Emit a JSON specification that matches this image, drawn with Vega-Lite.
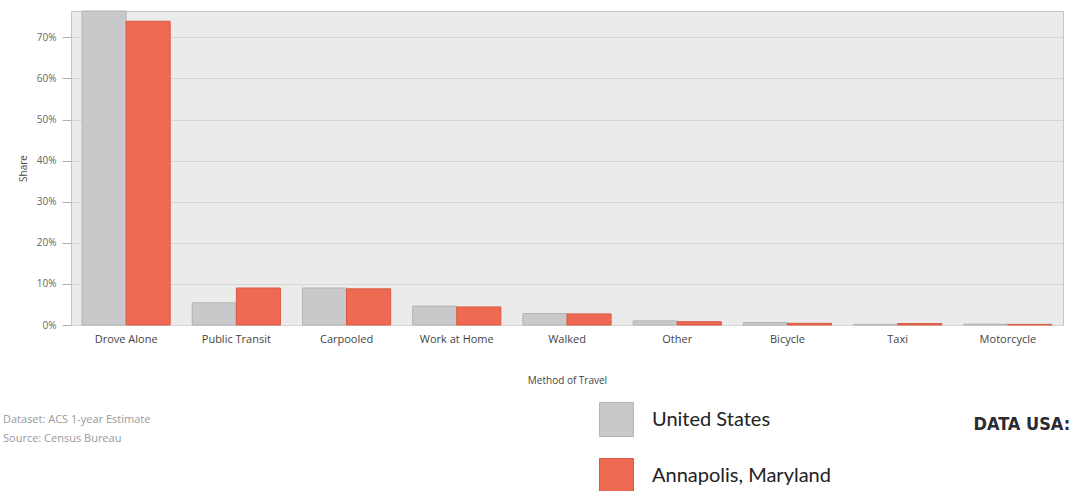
{
  "$schema": "https://vega.github.io/schema/vega-lite/v6.json",
  "autosize": {"type": "none"},
  "width": 992,
  "height": 314,
  "padding": {"left": 71, "top": 11, "right": 12, "bottom": 166},
  "background": "#ffffff",
  "config": {
    "view": {"fill": "#ebebeb", "stroke": "#c6c6c6", "strokeWidth": 1},
    "font": "Open Sans"
  },
  "title": {
    "text": ["Dataset: ACS 1-year Estimate", "Source: Census Bureau"],
    "orient": "bottom",
    "anchor": "start",
    "frame": "group",
    "fontSize": 11,
    "fontWeight": "normal",
    "color": "#9a9a9a",
    "font": "Open Sans",
    "lineHeight": 19,
    "dx": -68,
    "offset": -81
  },
  "layer": [
    {
      "data": {
        "values": [
          {"method": "Drove Alone", "series": "United States", "share": 76.4},
          {"method": "Drove Alone", "series": "Annapolis, Maryland", "share": 73.9},
          {"method": "Public Transit", "series": "United States", "share": 5.4},
          {"method": "Public Transit", "series": "Annapolis, Maryland", "share": 9.0},
          {"method": "Carpooled", "series": "United States", "share": 9.0},
          {"method": "Carpooled", "series": "Annapolis, Maryland", "share": 8.8},
          {"method": "Work at Home", "series": "United States", "share": 4.6},
          {"method": "Work at Home", "series": "Annapolis, Maryland", "share": 4.4},
          {"method": "Walked", "series": "United States", "share": 2.8},
          {"method": "Walked", "series": "Annapolis, Maryland", "share": 2.7},
          {"method": "Other", "series": "United States", "share": 1.0},
          {"method": "Other", "series": "Annapolis, Maryland", "share": 0.8},
          {"method": "Bicycle", "series": "United States", "share": 0.6},
          {"method": "Bicycle", "series": "Annapolis, Maryland", "share": 0.4},
          {"method": "Taxi", "series": "United States", "share": 0.15},
          {"method": "Taxi", "series": "Annapolis, Maryland", "share": 0.35},
          {"method": "Motorcycle", "series": "United States", "share": 0.2},
          {"method": "Motorcycle", "series": "Annapolis, Maryland", "share": 0.15}
        ]
      },
      "mark": {"type": "bar", "strokeWidth": 1},
      "encoding": {
        "x": {
          "field": "method",
          "type": "nominal",
          "sort": ["Drove Alone", "Public Transit", "Carpooled", "Work at Home", "Walked", "Other", "Bicycle", "Taxi", "Motorcycle"],
          "scale": {"paddingInner": 0.2, "paddingOuter": 0.1},
          "title": "Method of Travel",
          "axis": {
            "labelAngle": 0,
            "labelFontSize": 11,
            "labelColor": "#444444",
            "labelPadding": 8,
            "ticks": false,
            "domain": false,
            "titleFontSize": 10,
            "titleFontWeight": "normal",
            "titleColor": "#444444",
            "titlePadding": 31
          }
        },
        "xOffset": {
          "field": "series",
          "type": "nominal",
          "sort": ["United States", "Annapolis, Maryland"],
          "scale": {"paddingInner": 0, "paddingOuter": 0}
        },
        "y": {
          "field": "share",
          "type": "quantitative",
          "scale": {"domain": [0, 76.4], "nice": false},
          "title": "Share",
          "axis": {
            "values": [0, 10, 20, 30, 40, 50, 60, 70],
            "labelExpr": "datum.value + '%'",
            "labelFontSize": 10,
            "labelColor": "#666666",
            "labelPadding": 6,
            "tickSize": 9,
            "tickColor": "#b0b0b0",
            "domain": false,
            "gridColor": "#d6d6d6",
            "gridWidth": 1,
            "titleFontSize": 10,
            "titleFontWeight": "normal",
            "titleColor": "#444444",
            "titlePadding": 8
          }
        },
        "color": {
          "field": "series",
          "type": "nominal",
          "sort": ["United States", "Annapolis, Maryland"],
          "scale": {"domain": ["United States", "Annapolis, Maryland"], "range": ["#c9c9cb", "#ef6a52"]},
          "legend": {
            "title": null,
            "orient": "none",
            "legendX": 528,
            "legendY": 391,
            "symbolType": "square",
            "symbolSize": 1156,
            "symbolStrokeColor": "#b8b8b8",
            "symbolStrokeWidth": 1,
            "labelFontSize": 20,
            "labelFont": "Lato",
            "labelColor": "#222222",
            "labelOffset": 18,
            "rowPadding": 17,
            "labelLimit": 300
          }
        },
        "stroke": {
          "field": "series",
          "type": "nominal",
          "scale": {"domain": ["United States", "Annapolis, Maryland"], "range": ["#b4b4b6", "#d95a42"]},
          "legend": null
        }
      }
    },
    {
      "data": {"values": [{"logo": "DATA USA:"}]},
      "mark": {
        "type": "text",
        "font": "DejaVu Sans Condensed",
        "fontWeight": "bold",
        "fontSize": 18,
        "color": "#2b2b33",
        "align": "center",
        "baseline": "middle",
        "dx": 14
      },
      "encoding": {
        "x": {"datum": "Motorcycle", "type": "nominal"},
        "y": {"datum": -24.3, "type": "quantitative"},
        "text": {"field": "logo", "type": "nominal"}
      }
    }
  ]
}
